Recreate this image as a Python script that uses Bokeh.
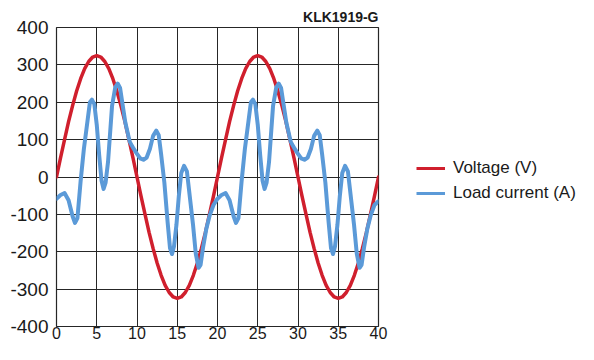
from bokeh.plotting import figure
from bokeh.layouts import row
from bokeh.models import FixedTicker, Legend, LegendItem
from bokeh.embed import file_html
from bokeh.resources import INLINE

# ---------------- data ----------------
series_names = ["Voltage (V)", "Load current (A)"]
figure_code = "KLK1919-G"

# voltage sampled every 0.5 ms (ms)
volt_time = [i * 0.5 for i in range(81)]
voltage = [0, 51, 100, 148, 191, 230, 263, 290, 309, 321,
           325, 321, 309, 290, 263, 230, 191, 148, 100, 51,
           0, -51, -100, -148, -191, -230, -263, -290, -309, -321,
           -325, -321, -309, -290, -263, -230, -191, -148, -100, -51,
           0, 51, 100, 148, 191, 230, 263, 290, 309, 321,
           325, 321, 309, 290, 263, 230, 191, 148, 100, 51,
           0, -51, -100, -148, -191, -230, -263, -290, -309, -321,
           -325, -321, -309, -290, -263, -230, -191, -148, -100, -51,
           0]

current_time = [0.0, 0.5, 1.0, 1.5, 2.0, 2.3, 2.6, 3.0, 3.4, 3.85, 4.15, 4.4, 4.7, 5.0,
                5.3, 5.6, 5.85, 6.1, 6.4, 6.9, 7.3, 7.6, 7.9, 8.2, 8.55, 9.1, 9.6,
                10.0, 10.4, 10.8, 11.2, 11.6, 12.0, 12.4, 12.7, 13.0, 13.4, 13.8, 14.1,
                14.35, 14.6, 14.9, 15.2, 15.5, 15.85, 16.2, 16.6, 16.96, 17.3, 17.65,
                17.9, 18.2, 18.6, 19.04, 19.5,
                20.0, 20.5, 21.0, 21.5, 22.0, 22.3, 22.6, 23.0, 23.4, 23.85, 24.15, 24.4,
                24.7, 25.0, 25.3, 25.6, 25.85, 26.1, 26.4, 26.9, 27.3, 27.6, 27.9, 28.2,
                28.55, 29.1, 29.6, 30.0, 30.4, 30.8, 31.2, 31.6, 32.0, 32.4, 32.7, 33.0,
                33.4, 33.8, 34.1, 34.35, 34.6, 34.9, 35.2, 35.5, 35.85, 36.2, 36.6,
                36.96, 37.3, 37.65, 37.9, 38.2, 38.6, 39.04, 39.5, 40.0]
current = [-58, -48, -43, -62, -105, -123, -110, -10, 75, 150, 200, 207, 195, 140,
           59, -10, -32, -15, 40, 190, 240, 250, 238, 195, 146, 94, 75,
           62, 50, 46, 52, 75, 110, 124, 112, 60, -15, -120, -190,
           -206, -185, -128, -50, 11, 30, 15, -60, -128, -205, -243,
           -235, -189, -140, -102, -75,
           -58, -48, -43, -62, -105, -123, -110, -10, 75, 150, 200, 207,
           195, 140, 59, -10, -32, -15, 40, 190, 240, 250, 238, 195,
           146, 94, 75, 62, 50, 46, 52, 75, 110, 124, 112, 60,
           -15, -120, -190, -206, -185, -128, -50, 11, 30, 15, -60,
           -128, -205, -243, -235, -189, -140, -102, -75, -65]

x_ticks = [0, 5, 10, 15, 20, 25, 30, 35, 40]
x_tick_labels = ["0", "5", "10", "15", "20", "25", "30", "35", "40"]
y_ticks = [-400, -300, -200, -100, 0, 100, 200, 300, 400]
y_tick_labels = ["-400", "-300", "-200", "-100", "0", "100", "200", "300", "400"]

# ---------------- styling ----------------
FONT = "Liberation Sans"
TXT = "#1a1a1a"
GRID = "#262626"
RED = "#d01f2d"
BLUE = "#5b9ad8"

p = figure(width=390, height=344, x_range=(0, 40), y_range=(-400, 400),
           output_backend="svg", toolbar_location=None,
           min_border_left=56, min_border_right=12,
           min_border_top=27, min_border_bottom=18)
p.background_fill_color = "white"
p.border_fill_color = "white"
p.outline_line_color = GRID
p.outline_line_width = 1.2

p.title.text = figure_code
p.title.align = "right"
p.title.text_font = FONT
p.title.text_font_size = "14px"
p.title.text_font_style = "bold"
p.title.text_color = TXT
p.title.standoff = 5

p.xgrid.ticker = FixedTicker(ticks=x_ticks)
p.ygrid.ticker = FixedTicker(ticks=y_ticks)
p.grid.grid_line_color = GRID
p.grid.grid_line_width = 1
p.grid.grid_line_alpha = 1

p.xaxis.ticker = FixedTicker(ticks=x_ticks)
p.xaxis.major_label_overrides = {t: l for t, l in zip(x_ticks, x_tick_labels)}
p.xaxis.major_label_standoff = 0
p.yaxis.ticker = FixedTicker(ticks=y_ticks)
p.yaxis.major_label_overrides = {t: l for t, l in zip(y_ticks, y_tick_labels)}
p.yaxis.major_label_standoff = 8
p.yaxis.major_label_text_font_size = "19px"
p.xaxis.major_label_text_font_size = "16px"
for ax in (p.xaxis, p.yaxis):
    ax.axis_line_color = None
    ax.major_tick_line_color = None
    ax.minor_tick_line_color = None
    ax.major_tick_out = 0
    ax.major_tick_in = 0
    ax.major_label_text_font = FONT
    ax.major_label_text_color = TXT

p.line(volt_time, voltage, color=RED, line_width=3.5,
       line_join="round", line_cap="round")
p.line(current_time, current, color=BLUE, line_width=4,
       line_join="round", line_cap="round")

# legend panel (second figure holding only the legend; its lines lie off-view)
pl = figure(width=188, height=344, x_range=(0, 1), y_range=(0, 1),
            output_backend="svg", toolbar_location=None, min_border=0)
pl.title.visible = False
pl.axis.visible = False
pl.grid.visible = False
pl.outline_line_color = None
pl.background_fill_color = "white"
pl.border_fill_color = "white"
lv = pl.line([5, 6], [5, 5], color=RED, line_width=3)
lc = pl.line([5, 6], [5, 5], color=BLUE, line_width=3)
legend = Legend(items=[LegendItem(label=series_names[0], renderers=[lv]),
                       LegendItem(label=series_names[1], renderers=[lc])],
                location=(26, 122), padding=0, margin=0,
                border_line_color=None, background_fill_alpha=0,
                glyph_width=29, glyph_height=22, label_height=22, spacing=3,
                label_standoff=8, label_text_font=FONT,
                label_text_font_size="17px", label_text_color=TXT)
pl.add_layout(legend)

layout = row(p, pl)
open("out.html", "w").write(file_html(layout, INLINE))
